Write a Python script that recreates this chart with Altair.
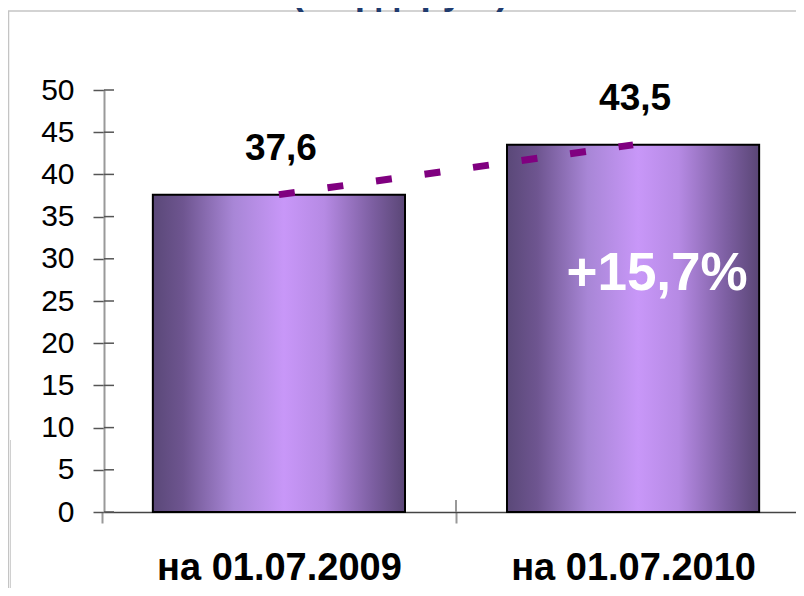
import altair as alt
import pandas as pd

# ---- data ----
categories = ["на 01.07.2009", "на 01.07.2010"]
values = [37.6, 43.5]
value_labels = ["37,6", "43,5"]
y_ticks = [0, 5, 10, 15, 20, 25, 30, 35, 40, 45, 50]
growth_label = "+15,7%"
title_text = "(млрд. руб.)"

df = pd.DataFrame({"cat": categories, "value": values, "label": value_labels})
df_ticks = pd.DataFrame({"t": y_ticks})
df_growth = pd.DataFrame({"cat": [categories[1]], "label": [growth_label]})
df_one = pd.DataFrame({"k": [0]})

FONT = "Liberation Sans, Arial, sans-serif"

W = 692
H = 422
P_IN, P_OUT, ALIGN = 0.288, 0.121, 0.57
STEP = W / (2 - P_IN + 2 * P_OUT)
BAND = STEP * (1 - P_IN)
START = (W - STEP * (2 - P_IN)) * ALIGN
BOUNDARY = START + BAND + STEP * P_IN / 2

x_scale = alt.Scale(domain=categories, paddingInner=P_IN, paddingOuter=P_OUT, align=ALIGN)
y_scale = alt.Scale(domain=[0, 50], nice=False, zero=True)

x_axis = alt.Axis(
    title=None, labelAngle=0, tickOffset=-STEP / 2, labelOffset=STEP / 2,
    tickSize=11, tickColor="#999999", tickWidth=2, domainColor="#444444",
    domainWidth=1.5, labelFont=FONT, labelFontSize=38, labelFontWeight="bold",
    labelColor="black", labelBaseline="alphabetic", labelPadding=56,
    labelLimit=600, grid=False,
)
y_axis = alt.Axis(
    title=None, values=y_ticks, tickSize=11, tickColor="#555555", tickWidth=1.5,
    domainColor="#999999", domainWidth=2, labelFont=FONT, labelFontSize=30,
    labelColor="black", labelPadding=19, grid=False,
)

grad = alt.Gradient(
    gradient="linear", x1=0, x2=1, y1=0, y2=0,
    stops=[
        alt.GradientStop(color="#5a4878", offset=0),
        alt.GradientStop(color="#6e5590", offset=0.12),
        alt.GradientStop(color="#a886d6", offset=0.32),
        alt.GradientStop(color="#c897f8", offset=0.52),
        alt.GradientStop(color="#b68ae4", offset=0.68),
        alt.GradientStop(color="#7d5fa2", offset=0.87),
        alt.GradientStop(color="#5a4676", offset=1),
    ],
)

base = alt.Chart(df)

bars = base.mark_bar(color=grad, stroke="black", strokeWidth=2).encode(
    x=alt.X("cat:N", scale=x_scale, axis=x_axis, sort=categories),
    y=alt.Y("value:Q", scale=y_scale, axis=y_axis),
)

line = base.mark_line(
    color="#800080", strokeWidth=7, strokeDash=[16, 33], strokeCap="butt"
).encode(
    x=alt.X("cat:N", sort=categories),
    y=alt.Y("value:Q"),
)

value_text = base.mark_text(
    font=FONT, fontSize=37, fontWeight="bold", color="black",
    baseline="alphabetic", dy=-35, dx=2,
).encode(
    x=alt.X("cat:N", sort=categories),
    y=alt.Y("value:Q"),
    text="label:N",
)

growth_text = alt.Chart(df_growth).mark_text(
    font=FONT, fontSize=53, fontWeight="bold", color="white",
    baseline="alphabetic", dx=24,
).encode(
    x=alt.X("cat:N", sort=categories),
    y=alt.value(200),
    text="label:N",
)

y_inner_ticks = alt.Chart(df_ticks).mark_rule(color="#555555", strokeWidth=1.5).encode(
    y=alt.Y("t:Q"),
    x=alt.value(0),
    x2=alt.value(10),
)

x_inner_tick = alt.Chart(df_one).mark_rule(color="#999999", strokeWidth=2).encode(
    x=alt.value(BOUNDARY),
    y=alt.value(H - 12),
    y2=alt.value(H),
)

title = alt.Chart(df_one).mark_text(
    font=FONT, fontSize=37, fontWeight="bold", color="#1F3B6E",
    baseline="alphabetic", align="center",
).encode(
    x=alt.value(296),
    y=alt.value(-86),
    text=alt.value(title_text),
)

frame_top = alt.Chart(df_one).mark_rule(color="#c4c4c4", strokeWidth=1.5).encode(
    x=alt.value(-96), x2=alt.value(720), y=alt.value(-79)
)
frame_left1 = alt.Chart(df_one).mark_rule(color="#c4c4c4", strokeWidth=1.5).encode(
    x=alt.value(-95.5), y=alt.value(-79), y2=alt.value(600)
)
frame_left2 = alt.Chart(df_one).mark_rule(color="#d0d0d0", strokeWidth=1).encode(
    x=alt.value(-93.5), y=alt.value(350), y2=alt.value(600)
)

chart = alt.layer(
    frame_top, frame_left1, frame_left2, title,
    bars, y_inner_ticks, x_inner_tick, line, value_text, growth_text,
).properties(
    width=W,
    height=H,
    autosize=alt.AutoSizeParams(type="none"),
    padding={"left": 96, "top": 82, "right": 0, "bottom": 76},
    background="white",
).configure_view(strokeWidth=0)

chart.save("out.html", embed_options={"renderer": "svg", "actions": False})
